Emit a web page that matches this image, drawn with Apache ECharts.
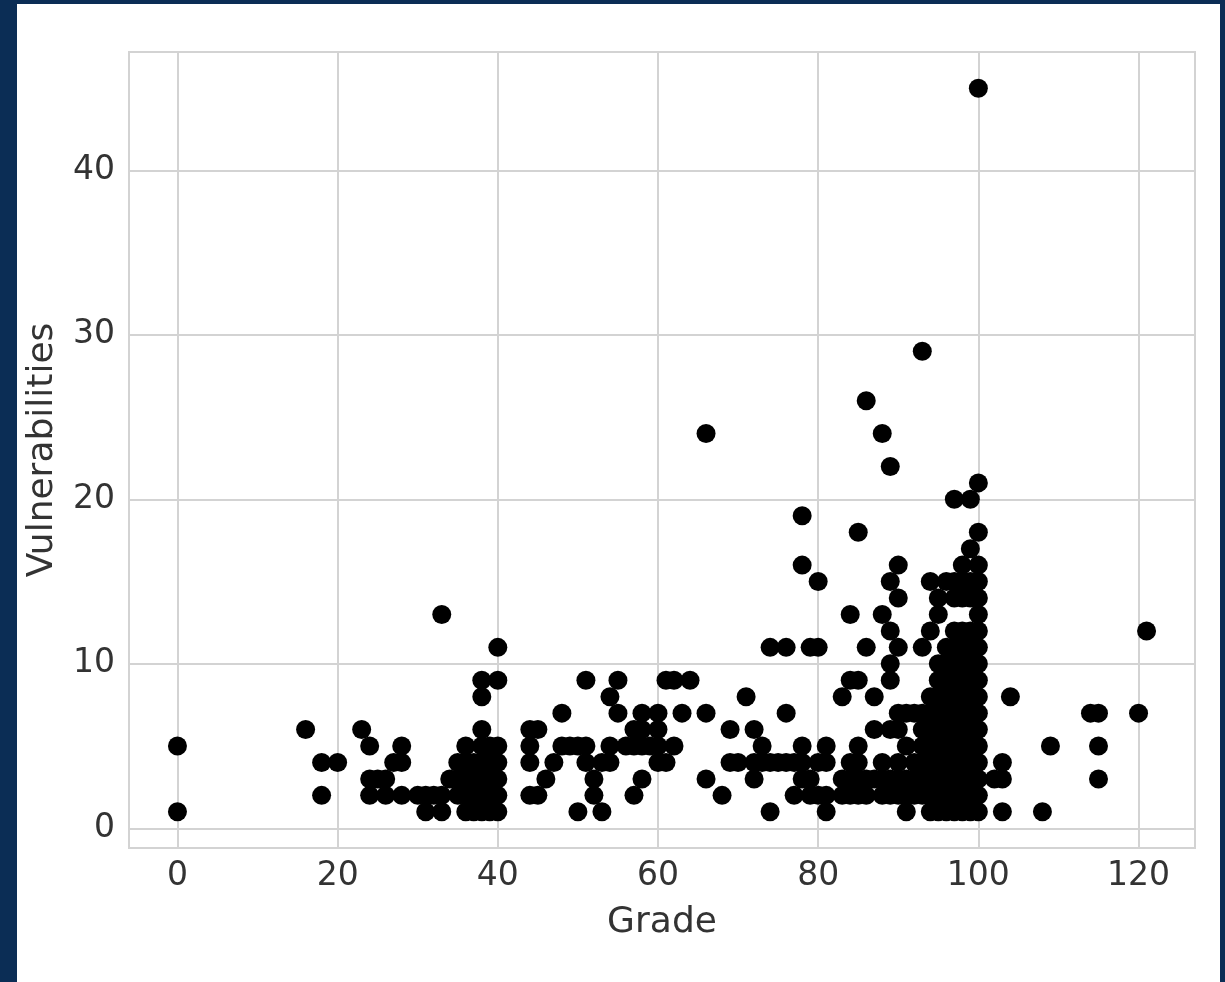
<!DOCTYPE html>
<html>
<head>
<meta charset="utf-8">
<script src="https://cdn.jsdelivr.net/npm/echarts@6/dist/echarts.min.js"></script>
<style>
  html, body { margin: 0; padding: 0; background: #0b2d55; }
  #chart { position: absolute; left: 17px; top: 4px; width: 1203px; height: 978px; background: #ffffff; }
</style>
</head>
<body>
<div id="chart"></div>
<script>
// tick labels
var xTicks = [0, 20, 40, 60, 80, 100, 120];
var yTicks = [0, 10, 20, 30, 40];

// grade (x) and vulnerabilities (y), one line per grade value
var grade = [
  0, 0,
  16,
  18, 18,
  20,
  23,
  24, 24, 24,
  25,
  26, 26,
  27,
  28, 28, 28,
  30,
  31, 31,
  32,
  33, 33, 33,
  34,
  35, 35, 35,
  36, 36, 36, 36, 36,
  37, 37, 37, 37,
  38, 38, 38, 38, 38, 38, 38, 38,
  39, 39, 39, 39, 39,
  40, 40, 40, 40, 40, 40, 40,
  44, 44, 44, 44,
  45, 45,
  46,
  47,
  48, 48,
  49,
  50, 50,
  51, 51, 51,
  52, 52,
  53, 53,
  54, 54, 54,
  55, 55,
  56,
  57, 57, 57,
  58, 58, 58, 58,
  59,
  60, 60, 60, 60,
  61, 61,
  62, 62,
  63,
  64,
  66, 66, 66,
  68,
  69, 69,
  70,
  71,
  72, 72, 72,
  73, 73,
  74, 74, 74,
  75,
  76, 76, 76,
  77, 77,
  78, 78, 78, 78, 78,
  79, 79, 79,
  80, 80, 80, 80,
  81, 81, 81, 81,
  83, 83, 83,
  84, 84, 84, 84, 84,
  85, 85, 85, 85, 85, 85,
  86, 86, 86, 86,
  87, 87, 87,
  88, 88, 88, 88, 88,
  89, 89, 89, 89, 89, 89, 89, 89,
  90, 90, 90, 90, 90, 90, 90, 90,
  91, 91, 91, 91, 91,
  92, 92, 92, 92,
  93, 93, 93, 93, 93, 93, 93, 93,
  94, 94, 94, 94, 94, 94, 94, 94, 94, 94,
  95, 95, 95, 95, 95, 95, 95, 95, 95, 95, 95, 95,
  96, 96, 96, 96, 96, 96, 96, 96, 96, 96, 96, 96,
  97, 97, 97, 97, 97, 97, 97, 97, 97, 97, 97, 97, 97, 97, 97,
  98, 98, 98, 98, 98, 98, 98, 98, 98, 98, 98, 98, 98, 98, 98,
  99, 99, 99, 99, 99, 99, 99, 99, 99, 99, 99, 99, 99, 99, 99, 99,
  100, 100, 100, 100, 100, 100, 100, 100, 100, 100, 100, 100, 100, 100, 100, 100, 100, 100, 100,
  102,
  103, 103, 103,
  104,
  108,
  109,
  114,
  115, 115, 115,
  120,
  121
];
var vulns = [
  5, 1,
  6,
  4, 2,
  4,
  6,
  5, 3, 2,
  3,
  2, 3,
  4,
  5, 4, 2,
  2,
  1, 2,
  2,
  13, 1, 2,
  3,
  4, 3, 2,
  5, 4, 3, 2, 1,
  4, 3, 2, 1,
  9, 8, 6, 5, 4, 3, 2, 1,
  5, 4, 3, 2, 1,
  11, 9, 5, 4, 3, 2, 1,
  6, 5, 4, 2,
  6, 2,
  3,
  4,
  7, 5,
  5,
  5, 1,
  9, 5, 4,
  3, 2,
  4, 1,
  8, 5, 4,
  9, 7,
  5,
  6, 5, 2,
  7, 6, 5, 3,
  5,
  7, 6, 5, 4,
  9, 4,
  9, 5,
  7,
  9,
  24, 7, 3,
  2,
  6, 4,
  4,
  8,
  6, 4, 3,
  5, 4,
  11, 4, 1,
  4,
  11, 7, 4,
  4, 2,
  19, 16, 5, 4, 3,
  11, 3, 2,
  15, 11, 4, 2,
  5, 4, 2, 1,
  8, 3, 2,
  13, 9, 4, 3, 2,
  18, 9, 5, 4, 3, 2,
  26, 11, 3, 2,
  8, 6, 3,
  24, 13, 4, 3, 2,
  22, 15, 12, 10, 9, 6, 3, 2,
  16, 14, 11, 7, 6, 4, 3, 2,
  7, 5, 3, 2, 1,
  7, 4, 3, 2,
  29, 11, 7, 6, 5, 4, 3, 2,
  15, 12, 8, 7, 6, 5, 4, 3, 2, 1,
  14, 13, 10, 9, 8, 7, 6, 5, 4, 3, 2, 1,
  15, 11, 10, 9, 8, 7, 6, 5, 4, 3, 2, 1,
  20, 15, 14, 12, 11, 10, 9, 8, 7, 6, 5, 4, 3, 2, 1,
  16, 15, 14, 12, 11, 10, 9, 8, 7, 6, 5, 4, 3, 2, 1,
  20, 17, 15, 14, 12, 11, 10, 9, 8, 7, 6, 5, 4, 3, 2, 1,
  45, 21, 18, 16, 15, 14, 13, 12, 11, 10, 9, 8, 7, 6, 5, 4, 3, 2, 1,
  3,
  4, 3, 1,
  8,
  1,
  5,
  7,
  7, 5, 3,
  7,
  12
];

var points = [];
for (var i = 0; i < grade.length; i++) {
  points.push([grade[i], vulns[i]]);
}

var font = 'DejaVu Sans';
var gridColor = '#d3d3d3';

var chart = echarts.init(document.getElementById('chart'), null, { renderer: 'canvas' });

var option = {
  backgroundColor: '#ffffff',
  animation: false,
  grid: {
    left: 110,
    right: 25,
    top: 48,
    bottom: 134,
    show: true,
    borderColor: gridColor,
    borderWidth: 2,
    backgroundColor: 'transparent'
  },
  xAxis: {
    type: 'value',
    min: -6.05,
    max: 127.05,
    name: 'Grade',
    nameLocation: 'middle',
    nameGap: 57,
    nameTextStyle: { fontFamily: font, fontSize: 36, color: '#333333' },
    axisLine: { show: false },
    axisTick: { show: false, customValues: xTicks },
    axisLabel: {
      customValues: xTicks,
      fontFamily: font,
      fontSize: 33,
      color: '#333333',
      margin: 12
    },
    splitLine: { show: true, lineStyle: { color: gridColor, width: 2 } }
  },
  yAxis: {
    type: 'value',
    min: -1.2,
    max: 47.2,
    name: 'Vulnerabilities',
    nameLocation: 'middle',
    nameGap: 68,
    nameRotate: 90,
    nameTextStyle: { fontFamily: font, fontSize: 36, color: '#333333' },
    axisLine: { show: false },
    axisTick: { show: false, customValues: yTicks },
    axisLabel: {
      customValues: yTicks,
      fontFamily: font,
      fontSize: 33,
      color: '#333333',
      margin: 14
    },
    splitLine: { show: true, lineStyle: { color: gridColor, width: 2 } }
  },
  series: [{
    type: 'scatter',
    data: points,
    symbol: 'circle',
    symbolSize: 19,
    itemStyle: { color: '#000000', opacity: 1 }
  }]
};

chart.setOption(option);
</script>
</body>
</html>
